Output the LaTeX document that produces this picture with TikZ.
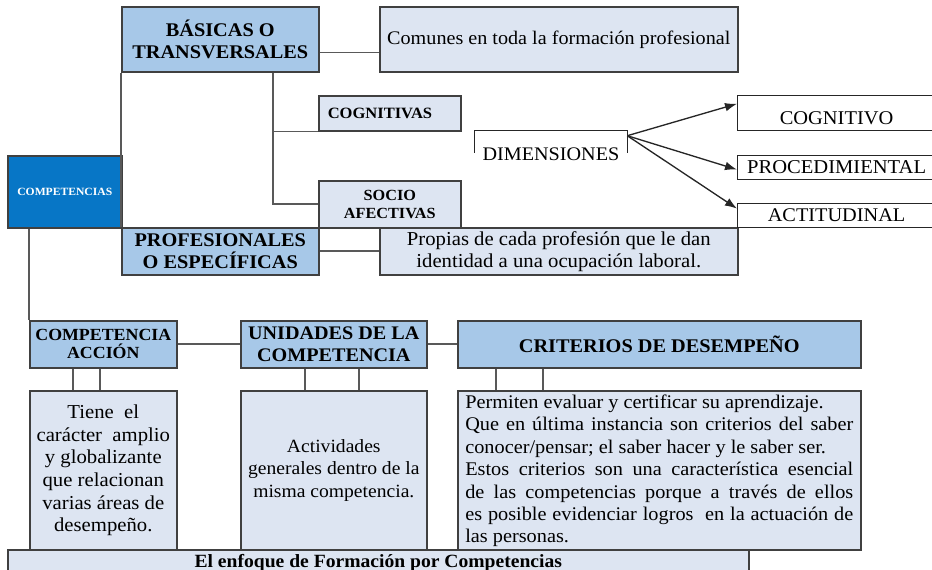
\documentclass[tikz,border=0pt]{standalone}
\usepackage{fontspec}
\setmainfont[FakeStretch=1.05]{Liberation Serif}
\usepackage{tikz}
\usetikzlibrary{arrows.meta}
\usetikzlibrary{positioning}
\definecolor{compblue}{HTML}{0776C6}
\definecolor{hdrblue}{HTML}{A7C8E8}
\definecolor{paleblue}{HTML}{DDE5F2}
\definecolor{edgegray}{HTML}{404040}
\tikzset{
% standard arrow tip
>={Latex[length=9pt,width=6.5pt]},
box/.style={rectangle, draw=edgegray, line width=1.2pt, anchor=north west, inner sep=2pt, align=center},
hdr/.style={box, fill=hdrblue},
pale/.style={box, fill=paleblue},
dimbox/.style={box, fill=white, draw=black!85, line width=0.9pt},
link/.style={draw=black!65, line width=1.2pt},
arr/.style={->, draw=black!85, line width=1pt}
}

\begin{document}
\begin{tikzpicture}[x=0.75pt, y=-0.75pt]
  \useasboundingbox (0,0) rectangle (932,570);

  % upper part
  \node[box, fill=compblue, text=white, font={\fontsize{8.3}{10}\selectfont\bfseries},
    minimum width=85.5pt, minimum height=54pt] (comp) at (7,155) {COMPETENCIAS};
  \node[hdr, font={\fontsize{14.5}{16.5}\selectfont\bfseries},
    minimum width=147.75pt, minimum height=48.75pt] (bas) at (121,6) {BÁSICAS O\\TRANSVERSALES};
  \node[pale, font={\fontsize{14.4}{16}\selectfont},
    minimum width=268.5pt, minimum height=48.75pt] (com) at (379,6) {Comunes en toda la formación profesional};
  \node[pale, font={\fontsize{11.8}{13.5}\selectfont\bfseries}, align=left,
    text width=93pt, inner xsep=6.75pt, minimum height=26.25pt] (cogs) at (318,95) {COGNITIVAS};
  \node[pale, font={\fontsize{11.6}{13.5}\selectfont\bfseries},
    minimum width=106.5pt, minimum height=35.25pt] (soc) at (318,180) {SOCIO\\AFECTIVAS};
  \node[hdr, font={\fontsize{14.5}{16.5}\selectfont\bfseries},
    minimum width=147.75pt, minimum height=35.25pt] (prof) at (121,227) {PROFESIONALES\\O ESPECÍFICAS};
  \node[pale, font={\fontsize{14.8}{16.5}\selectfont},
    minimum width=268.5pt, minimum height=35.25pt] (prop) at (379,227) {Propias de cada profesión que le dan\\identidad a una ocupación laboral.};

  % dimensiones
  \node[font={\fontsize{14.4}{16}\selectfont}, inner sep=0pt,
    minimum width=114pt, minimum height=34.5pt] (dim) at (551,154) {DIMENSIONES};
  \draw[draw=black!85, line width=0.9pt] ([yshift=-16.5pt]dim.north west) -- (dim.north west)
    -- (dim.north east) -- ([yshift=-16.5pt]dim.north east);
  \node[dimbox, font={\fontsize{14.6}{16}\selectfont}, text height=16.4pt, text depth=0pt,
    minimum width=148.5pt, minimum height=26.25pt] (cogo) at (737,95) {COGNITIVO};
  \node[dimbox, font={\fontsize{14.7}{16}\selectfont},
    minimum width=148.5pt, minimum height=18pt] (proc) at (737,155) {PROCEDIMIENTAL};
  \node[dimbox, font={\fontsize{14.5}{16}\selectfont},
    minimum width=148.5pt, minimum height=18pt] (acti) at (737,203) {ACTITUDINAL};

  \coordinate (dout) at ([yshift=-3.75pt]dim.north east);
  \draw[arr] (dout) -- ([yshift=7pt]cogo.west);
  \draw[arr] (dout) -- ([yshift=-1.5pt]proc.west);
  \draw[arr] (dout) -- ([yshift=5.25pt]acti.west);

  % lower part
  \node[hdr, font={\fontsize{12.75}{13.5}\selectfont\bfseries},
    minimum width=110.25pt, minimum height=35.25pt] (acc) at (29,320) {COMPETENCIA\\ACCIÓN};
  \node[hdr, font={\fontsize{14.4}{16.5}\selectfont\bfseries},
    minimum width=139.5pt, minimum height=35.25pt] (uni) at (240,320) {UNIDADES DE LA\\COMPETENCIA};
  \node[hdr, font={\fontsize{14.5}{16}\selectfont\bfseries},
    minimum width=302.25pt, minimum height=35.25pt] (cri) at (457,320) {CRITERIOS DE DESEMPEÑO};

  \node[pale, font={\fontsize{14.8}{17}\selectfont},
    minimum width=110.25pt, minimum height=119.25pt] (tiene) at (29,390)
    {Tiene\ \ el\\carácter\ \ amplio\\y globalizante\\que relacionan\\varias áreas de\\desempeño.};
  \node[pale, font={\fontsize{14}{17}\selectfont},
    minimum width=139.5pt, minimum height=119.25pt] (activ) at (240,390)
    {Actividades\\generales dentro de la\\misma competencia.};
  \node[pale, font={\fontsize{14.5}{16.8}\selectfont}, inner xsep=5.6pt, inner ysep=3pt,
    minimum width=302.25pt, minimum height=119.25pt] (perm) at (457,390)
    {\parbox[t][113.25pt][t]{291pt}{\sloppy
      Permiten evaluar y certificar su aprendizaje.\par
      Que en última instancia son criterios del saber\linebreak
      conocer/pensar; el saber hacer y le saber ser.\par
      Estos criterios son una característica esencial\linebreak
      de las competencias porque a través de ellos\linebreak
      es posible evidenciar logros \ en la actuación de\linebreak
      las personas.}};

  \node[pale, font={\fontsize{14}{16}\selectfont\bfseries},
    minimum width=555.75pt, minimum height=19.5pt] (enf) at (7,549) {El enfoque de Formación por Competencias};

  % connectors
  \draw[link] (bas.south west) -- (prof.north west);
  \draw[link] ([yshift=-10pt]bas.east) -- ([yshift=-10pt]com.west);
  \draw[link] (prof.east) -- (prop.west);
  \coordinate (bsplit) at ([xshift=39.4pt]bas.south);
  \draw[link] (bsplit) |- (soc.west);
  \draw[link] (bsplit |- cogs.south) -- (cogs.south west);

  \draw[link] (acc.north west) -- (acc.north west |- comp.south);
  \draw[link] (acc) -- (uni);
  \draw[link] (uni) -- (cri);
  \foreach \dx in {-22.9pt, -2.6pt}
    \draw[link] ([xshift=\dx]acc.south) -- ([xshift=\dx]tiene.north);
  \foreach \dx in {-21.75pt, 18.75pt}
    \draw[link] ([xshift=\dx]uni.south) -- ([xshift=\dx]activ.north);
  \foreach \dx in {-122.6pt, -87.4pt}
    \draw[link] ([xshift=\dx]cri.south) -- ([xshift=\dx]perm.north);
\end{tikzpicture}
\end{document}
